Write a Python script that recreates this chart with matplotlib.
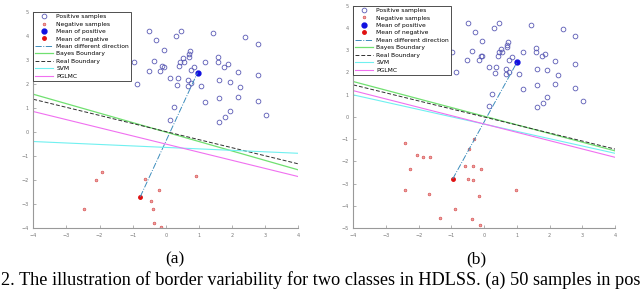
import numpy as np
import matplotlib
matplotlib.use('Agg')
import matplotlib.pyplot as plt

# positive samples (same set in both panels)
pos_x = [-0.97, -0.87, -0.5, -0.52, -0.37, -0.28, -0.16, -0.11, -0.06, -0.06, 0.14, 0.31, 0.46,
         0.36, 0.34, 0.41, 0.44, 0.51, 0.54, 0.66, 0.67, 0.71, 0.74, 0.71, 0.76, 0.76, 0.84,
         1.05, 1.18, 1.18, 1.43, 1.57, 1.57, 1.6, 1.6, 1.77, 1.87, 1.93, 2.17, 2.17, 2.25,
         2.4, 2.78, 2.78, 2.78, 3.03, 1.93, 1.8, 1.6, 0.24, 0.14]
pos_y = [2.93, 2.0, 4.21, 2.55, 2.97, 3.82, 2.54, 2.76, 2.72, 3.42, 2.24, 4.01, 4.21,
         2.26, 1.96, 2.75, 2.93, 3.07, 2.9, 2.17, 1.92, 3.24, 3.35, 3.14, 2.03, 2.58, 2.69,
         1.92, 2.93, 1.24, 4.14, 3.11, 2.93, 2.17, 1.43, 2.72, 2.82, 2.1, 2.51, 1.47, 1.89,
         3.97, 3.65, 2.38, 1.30, 0.71, 0.89, 0.64, 0.43, 1.03, 0.5]

# negative samples
neg_a_x = [-1.92, -2.1, -2.48, -0.64, -0.21, -0.44, -0.38, -0.34, -0.14, 0.92]
neg_a_y = [-1.65, -2.0, -3.22, -1.97, -2.42, -2.88, -3.21, -3.8, -3.97, -1.83]
neg_b_x = [-2.41, -2.05, -1.87, -1.67, -2.26, -2.41, -1.7, -1.36, -0.89, -0.6, -0.48,
           -0.35, -0.33, -0.1, -0.17, -0.38, -0.12, 0.97, -0.46, -0.31]
neg_b_y = [-1.19, -1.71, -1.82, -1.82, -2.36, -3.29, -3.47, -4.56, -4.16, -2.19, -2.81,
           -2.84, -2.21, -2.36, -3.56, -4.61, -4.86, -3.29, -1.44, -1.0]

# means (positive, negative)
mean_a = [(0.96, 2.47), (-0.77, -2.7)]
mean_b = [(1.0, 2.45), (-0.96, -2.79)]

# boundary lines: value at x=-4 and x=4
bounds_a = {'bayes': (1.57, -1.58), 'real': (1.36, -1.33), 'svm': (-0.4, -0.89), 'pglmc': (0.85, -1.86)}
bounds_b = {'bayes': (1.59, -1.53), 'real': (1.44, -1.45), 'svm': (0.99, -1.64), 'pglmc': (1.18, -1.82)}

x_ticks = [-4, -3, -2, -1, 0, 1, 2, 3, 4]
caption = '2. The illustration of border variability for two classes in HDLSS. (a) 50 samples in pos'


def draw_panel(ax, neg_x, neg_y, means, bounds, ylim):
    ax.plot(pos_x, pos_y, 'o', mfc='none', mec='#5a5ab4', ms=3.4, mew=0.6, label='Positive samples')
    ax.plot(neg_x, neg_y, 'o', mfc='#f0a0a0', mec='#d04040', ms=2.0, mew=0.4, label='Negative samples')
    ax.plot(*means[0], 'o', color='#1010e0', ms=3.5, label='Mean of positive')
    ax.plot(*means[1], 'o', color='#e01010', ms=2.5, label='Mean of negative')
    ax.plot([means[1][0], means[0][0]], [means[1][1], means[0][1]], '-.', color='#3c8cbc', lw=0.7,
            label='Mean different direction')
    xs = [-4, 4]
    ax.plot(xs, bounds['bayes'], color='#70e070', lw=0.9, label='Bayes Boundary')
    ax.plot(xs, bounds['real'], '--', color='#303030', lw=0.7, dashes=(4, 2), label='Real Boundary')
    ax.plot(xs, bounds['svm'], color='#70f0f0', lw=0.8, label='SVM')
    ax.plot(xs, bounds['pglmc'], color='#f070f0', lw=0.8, label='PGLMC')
    ax.set_xlim(-4, 4)
    ax.set_ylim(*ylim)
    ax.set_xticks(x_ticks)
    ax.set_yticks(range(ylim[0], ylim[1] + 1))
    ax.tick_params(labelsize=3.5, colors='#777777', direction='in', length=2, width=0.4, pad=3.5)
    for s in ['top', 'right']:
        ax.spines[s].set_visible(False)
    for s in ['left', 'bottom']:
        ax.spines[s].set_color('#999999')
        ax.spines[s].set_linewidth(0.8)
    leg = ax.legend(loc='upper left', fontsize=4.3, handlelength=3.0, borderaxespad=0,
                    fancybox=False, framealpha=1, borderpad=0.35, labelspacing=0.38,
                    handletextpad=0.5)
    leg.get_frame().set_edgecolor('#333333')
    leg.get_frame().set_linewidth(0.6)


fig = plt.figure(figsize=(6.4, 2.9), dpi=100)
ax1 = fig.add_axes([0.052, 0.214, 0.414, 0.745])
ax2 = fig.add_axes([0.552, 0.214, 0.409, 0.766])
draw_panel(ax1, neg_a_x, neg_a_y, mean_a, bounds_a, (-4, 5))
draw_panel(ax2, neg_b_x, neg_b_y, mean_b, bounds_b, (-5, 5))

fig.text(0.273, 0.105, '(a)', family='Liberation Serif', fontsize=12.5, ha='center', va='center')
fig.text(0.745, 0.105, '(b)', family='Liberation Serif', fontsize=12.5, ha='center', va='center')
cap = fig.text(0.002, 0.004, caption, family='Liberation Serif', fontsize=13, ha='left', va='bottom')

# fit caption width to the figure width
renderer = fig.canvas.get_renderer()
w = cap.get_window_extent(renderer).width
cap.set_fontsize(13 * 636 / w)

fig.savefig('out.png', dpi=100)
